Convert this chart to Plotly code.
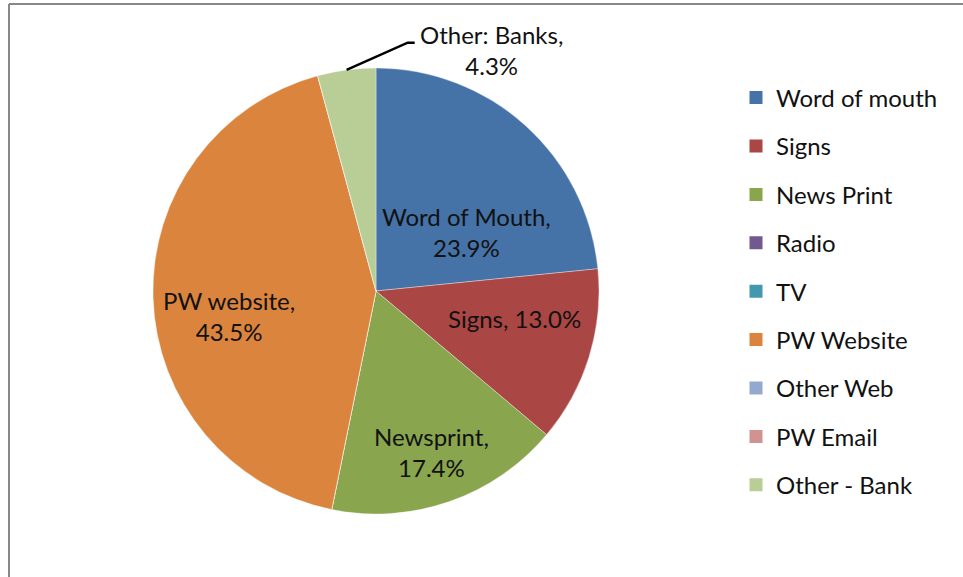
import math
import plotly.graph_objects as go

# Survey: how respondents heard about the event
categories = ["Word of mouth", "Signs", "News Print", "Radio", "TV",
              "PW Website", "Other Web", "PW Email", "Other - Bank"]
shares = [23.9, 13.0, 17.4, 0, 0, 43.5, 0, 0, 4.3]
label_names = ["Word of Mouth", "Signs", "Newsprint", None, None,
               "PW website", None, None, "Other: Banks"]
label_breaks = ["<br>", " ", "<br>", "", "", "<br>", "", "", "<br>"]
colors = ["#4572A7", "#AA4643", "#89A54E", "#71588F", "#4198AF",
          "#DB843D", "#93A9CF", "#D19392", "#B9CD96"]

# label placement: (fraction of radius, degrees offset from slice middle)
label_place = {0: (0.485, 15.0), 1: (0.635, -5.8), 2: (0.765, 0.3),
               5: (0.67, -7.9), 8: (1.20, 33.2)}
OUTSIDE = {8}

W, H = 963, 577
CX, CY, R = 376, 291, 223
FONT = "Lato"
FS = 24


def px(x):
    return x / W


def py(y):
    return 1 - y / H


fig = go.Figure()

fig.add_trace(go.Pie(
    labels=categories,
    values=shares,
    sort=False,
    direction="clockwise",
    rotation=0,
    textinfo="none",
    hoverinfo="label+value",
    showlegend=False,
    marker=dict(colors=colors, line=dict(color="rgba(255,255,255,0.6)", width=0.6)),
    domain=dict(x=[px(CX - R), px(CX + R)], y=[py(CY + R), py(CY - R)]),
))

# legend entries, one group each so they can be spaced apart
for name, col in zip(categories, colors):
    fig.add_trace(go.Scatter(
        x=[None], y=[None], mode="markers", name=name, legendgroup=name,
        marker=dict(symbol="square", size=13, color=col),
    ))

total = sum(shares)
annotations = []
shapes = []
start = 0.0
for i, v in enumerate(shares):
    span = v / total * 360.0
    mid = start + span / 2
    start += span
    if label_names[i] is None:
        continue
    frac, off = label_place[i]
    ang = math.radians(mid + off)
    lx = CX + frac * R * math.sin(ang)
    ly = CY - frac * R * math.cos(ang)
    annotations.append(dict(
        x=px(lx), y=py(ly), xref="paper", yref="paper",
        text=f"{label_names[i]},{label_breaks[i]}{v:.1f}%",
        showarrow=False, xanchor="center", yanchor="middle",
        font=dict(family=FONT, size=FS, color="#111"),
    ))
    if i in OUTSIDE:
        a = math.radians(mid)
        ex = CX + R * math.sin(a)
        ey = CY - R * math.cos(a)
        elbow = (lx - 84, ly - 7)
        end = (lx - 77, ly - 7)
        shapes.append(dict(
            type="path", xref="paper", yref="paper",
            path=(f"M {px(ex)},{py(ey)} L {px(elbow[0])},{py(elbow[1])} "
                  f"L {px(end[0])},{py(end[1])}"),
            line=dict(color="black", width=2.5),
        ))

# chart frame
shapes.append(dict(type="line", xref="paper", yref="paper",
                   x0=px(9), x1=px(W + 20), y0=py(4), y1=py(4),
                   line=dict(color="#888888", width=2)))
shapes.append(dict(type="line", xref="paper", yref="paper",
                   x0=px(9), x1=px(9), y0=py(4), y1=py(H + 20),
                   line=dict(color="#888888", width=2)))

fig.update_layout(
    width=W, height=H,
    margin=dict(l=0, r=0, t=0, b=0),
    paper_bgcolor="white", plot_bgcolor="white",
    xaxis=dict(visible=False), yaxis=dict(visible=False),
    font=dict(family=FONT, size=FS, color="#111"),
    annotations=annotations,
    shapes=shapes,
    showlegend=True,
    legend=dict(
        x=px(736), y=py(75.5), xanchor="left", yanchor="top",
        tracegroupgap=14.2, bgcolor="rgba(0,0,0,0)",
        font=dict(family=FONT, size=FS, color="#111"),
        itemsizing="trace",
    ),
)

fig.write_html("out.html")
